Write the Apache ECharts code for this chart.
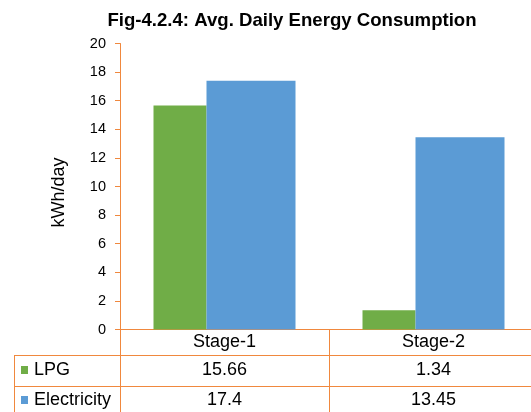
<!DOCTYPE html>
<html>
<head>
<meta charset="utf-8">
<script src="https://cdn.jsdelivr.net/npm/echarts@6/dist/echarts.min.js"></script>
<style>
  html, body { margin: 0; padding: 0; background: #fff; overflow: hidden; }
  /* the plot runs a few px past the right edge of the picture */
  #chart { width: 538px; height: 412px; }
</style>
</head>
<body>
<div id="chart"></div>
<script>
  var stages = ['Stage-1', 'Stage-2'];
  var lpg = [15.66, 1.34];
  var electricity = [17.4, 13.45];
  var yTicks = [0, 20, 2]; // min, max, step

  var orange = '#F0883E';
  var font = 'Liberation Sans, Arial, sans-serif';

  var chart = echarts.init(document.getElementById('chart'));
  var option = {
    animation: false,
    textStyle: { fontFamily: font },
    title: {
      text: 'Fig-4.2.4: Avg. Daily Energy Consumption',
      left: 287,
      textAlign: 'center',
      top: 6,
      textStyle: { fontSize: 18.6, fontWeight: 'bold', color: '#000', fontFamily: font }
    },
    legend: {
      data: ['LPG', 'Electricity'],
      orient: 'vertical',
      left: 21,
      top: 361,
      padding: 0,
      icon: 'rect',
      itemWidth: 7,
      itemHeight: 8,
      itemGap: 12,
      selectedMode: false,
      textStyle: { fontSize: 18, color: '#000', fontFamily: font, padding: [0, 0, 0, 1] }
    },
    grid: { left: 120, right: 0, top: 43.5, bottom: 82.5 },
    xAxis: {
      type: 'category',
      data: stages,
      axisLine: { lineStyle: { color: orange, width: 1 } },
      axisTick: { show: true, length: 90, lineStyle: { color: orange } },
      axisLabel: {
        interval: 0,
        margin: 0,
        color: '#000',
        formatter: function (v, i) {
          return '{h|' + v + '}\n{a|' + lpg[i] + '}\n{b|' + electricity[i] + '}';
        },
        rich: {
          h: { fontSize: 18, lineHeight: 25, fontFamily: font, color: '#000' },
          a: { fontSize: 18, lineHeight: 31, fontFamily: font, color: '#000' },
          b: { fontSize: 18, lineHeight: 30, fontFamily: font, color: '#000' }
        }
      }
    },
    yAxis: {
      type: 'value',
      min: yTicks[0],
      max: yTicks[1],
      interval: yTicks[2],
      name: 'kWh/day',
      nameLocation: 'middle',
      nameGap: 52,
      nameTextStyle: { fontSize: 18, color: '#000', fontFamily: font, padding: [0, 12, 0, 0] },
      axisLine: { show: true, lineStyle: { color: orange } },
      axisTick: { show: true, length: 5, lineStyle: { color: orange } },
      axisLabel: { fontSize: 14.5, color: '#000', margin: 14 },
      splitLine: { show: false }
    },
    series: [
      {
        name: 'LPG',
        type: 'bar',
        data: lpg,
        barWidth: 53,
        barGap: '0%',
        itemStyle: { color: '#70AD47' }
      },
      {
        name: 'Electricity',
        type: 'bar',
        data: electricity,
        barWidth: 89,
        barGap: '0%',
        itemStyle: { color: '#5B9BD5' }
      }
    ],
    graphic: [
      { type: 'line', shape: { x1: 14, y1: 355.5, x2: 538, y2: 355.5 }, style: { stroke: orange, lineWidth: 1 } },
      { type: 'line', shape: { x1: 14, y1: 386.5, x2: 538, y2: 386.5 }, style: { stroke: orange, lineWidth: 1 } },
      { type: 'line', shape: { x1: 14.5, y1: 355, x2: 14.5, y2: 412 }, style: { stroke: orange, lineWidth: 1 } }
    ]
  };
  chart.setOption(option);
</script>
</body>
</html>
